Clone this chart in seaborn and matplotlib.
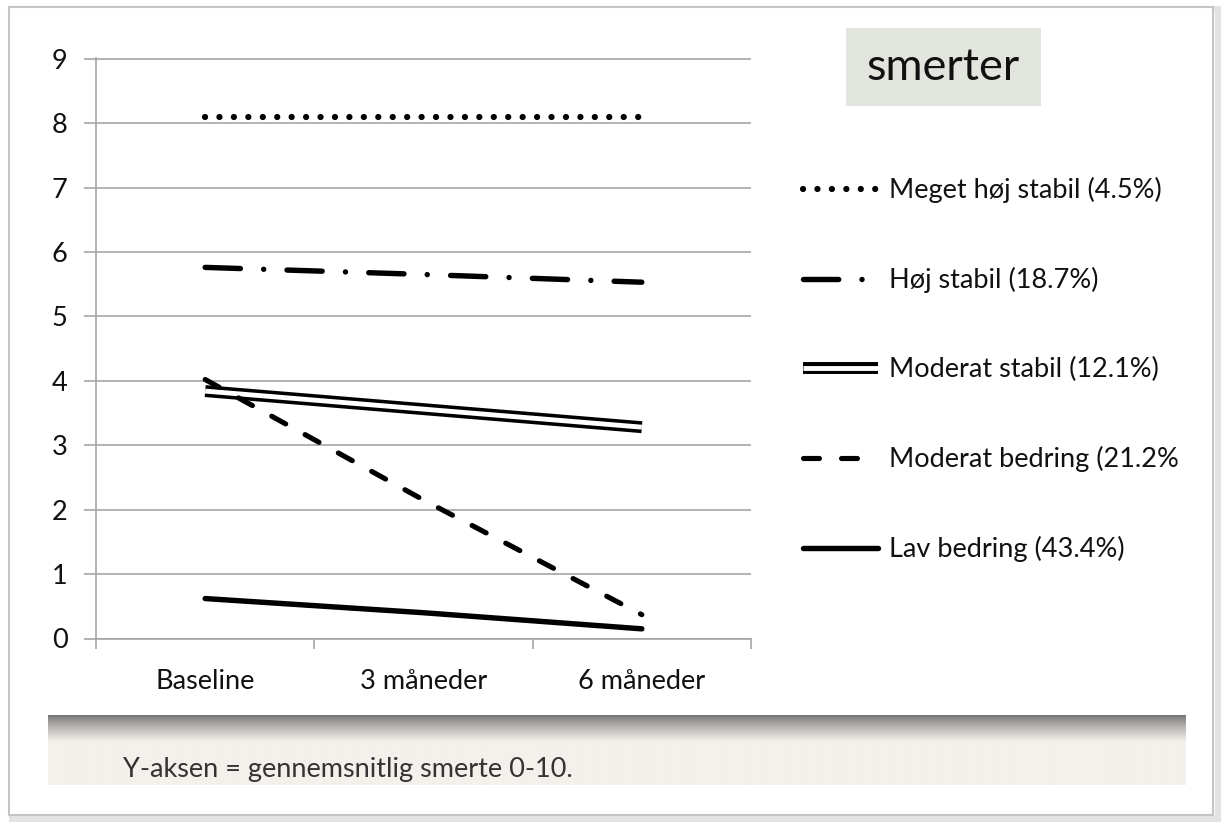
import numpy as np
import pandas as pd
import matplotlib
matplotlib.use("Agg")
import matplotlib.pyplot as plt
import matplotlib.patheffects as pe
from matplotlib.patches import Rectangle
import seaborn as sns

# ---------------- data ----------------
categories = ["Baseline", "3 måneder", "6 måneder"]
groups = [
    "Meget høj stabil (4.5%)",
    "Høj stabil (18.7%)",
    "Moderat stabil (12.1%)",
    "Moderat bedring (21.2%",
    "Lav bedring (43.4%)",
]
meget_hoj_stabil = [8.10, 8.10, 8.10]
hoj_stabil = [5.76, 5.65, 5.53]
moderat_stabil = [3.84, 3.56, 3.28]
moderat_bedring = [4.02, 2.15, 0.37]
lav_bedring = [0.62, 0.40, 0.15]
y_ticks = [0, 1, 2, 3, 4, 5, 6, 7, 8, 9]
title_text = "smerter"
footer_text = "Y-aksen = gennemsnitlig smerte 0-10."

series = [meget_hoj_stabil, hoj_stabil, moderat_stabil, moderat_bedring, lav_bedring]

rows = []
for g, vals in zip(groups, series):
    for i, (c, v) in enumerate(zip(categories, vals)):
        rows.append({"group": g, "tid": c, "pos": i, "value": v})
df = pd.DataFrame(rows)

# ---------------- style ----------------
sns.set_theme(style="white")
plt.rcParams["font.family"] = ["Lato", "DejaVu Sans"]

FS = 19.5
W, H = 1224, 822
fig = plt.figure(figsize=(W / 100, H / 100), dpi=100)
fig.patch.set_facecolor("white")

# outer frame with soft shadow
fig.patches.append(Rectangle((12 / W, 1 - 819 / H), 1206 / W, 810 / H, transform=fig.transFigure,
                             facecolor="none", edgecolor="#e3e3e3", lw=4.5, zorder=-3))
fig.patches.append(Rectangle((9 / W, 1 - 815 / H), 1204 / W, 808 / H, transform=fig.transFigure,
                             facecolor="white", edgecolor="#c4c4c4", lw=1.5, zorder=-2))

grid_col = "#a6a6a6"
ax = fig.add_axes([96 / W, 1 - 638.5 / H, (751 - 96) / W, (638.5 - 58) / H])
ax.set_facecolor("none")
ax.set_zorder(2)

styles = [
    dict(lw=4.5, ls=(0, (0.01, 2.3)), cap="round", pe=None),
    dict(lw=3.9, ls=(0, (6.5, 4.3, 0.01, 4.3)), cap="round", pe=None),
    dict(lw=8.6, ls="-", cap="butt",
         pe=[pe.Normal(), pe.Stroke(linewidth=3.5, foreground="white")]),
    dict(lw=3.7, ls=(0, (3.1, 4.3)), cap="round", pe=None),
    dict(lw=3.9, ls="-", cap="round", pe=None),
]

handles = []
for g, st in zip(groups, styles):
    sub = df[df["group"] == g]
    sns.lineplot(data=sub, x="pos", y="value", ax=ax, color="black",
                 linewidth=st["lw"], legend=False, sort=False, zorder=3)
    line = ax.lines[-1]
    line.set_linestyle(st["ls"])
    line.set_dash_capstyle(st["cap"])
    line.set_solid_capstyle(st["cap"])
    line.set_label(g)
    if st["pe"] is not None:
        line.set_path_effects(st["pe"])
    handles.append(line)

ax.set_xlim(-0.5, len(categories) - 0.5)
ax.set_ylim(0, 9.01)
ax.set_yticks(y_ticks)
ax.set_yticklabels([str(t) for t in y_ticks])
ax.set_xticks(range(len(categories)))
ax.set_xticklabels(categories)
ax.set_xticks(np.arange(-0.5, len(categories), 1.0), minor=True)
ax.set_xlabel("")
ax.set_ylabel("")

ax.yaxis.grid(True, color=grid_col, lw=1.2, zorder=0)
ax.xaxis.grid(False)
ax.set_axisbelow(True)
for s in ["top", "right"]:
    ax.spines[s].set_visible(False)
for s in ["left", "bottom"]:
    ax.spines[s].set_color(grid_col)
    ax.spines[s].set_linewidth(1.2)

ax.tick_params(axis="y", which="major", left=True, length=8.6, width=1.2, color=grid_col,
               pad=12, labelsize=FS, labelcolor="#111111")
ax.tick_params(axis="x", which="major", bottom=False, length=0, pad=22,
               labelsize=FS, labelcolor="#111111")
ax.tick_params(axis="x", which="minor", bottom=True, length=7, width=1.2, color=grid_col,
               direction="out")

# legend
leg = fig.legend(handles=handles, labels=groups, loc="center left",
                 bbox_to_anchor=(803 / W, 1 - 369.5 / H), frameon=False,
                 fontsize=FS, handlelength=2.77, handletextpad=0.4,
                 labelspacing=2.36, borderpad=0, borderaxespad=0)
for t in leg.get_texts():
    t.set_color("#111111")

# title box
fig.patches.append(Rectangle((846 / W, 1 - 106 / H), 195 / W, 78 / H, transform=fig.transFigure,
                             facecolor="#e2e5dd", edgecolor="none", zorder=1))
fig.text(943 / W, 1 - 67 / H, title_text, ha="center", va="center", fontsize=32.5,
         color="#111111", zorder=2)

# footer band with gradient
fax = fig.add_axes([48 / W, 1 - 785 / H, (1186 - 48) / W, 70 / H])
fax.set_zorder(1)
nrows = 70
top = np.array([0x74, 0x74, 0x74]) / 255
base = np.array([0xf4, 0xf0, 0xeb]) / 255
grad = np.zeros((nrows, 2, 3))
for i in range(nrows):
    t = min(i / 26.0, 1.0)
    t = t ** 0.8
    grad[i, :, :] = top * (1 - t) + base * t
fax.imshow(grad, aspect="auto", extent=(0, 1, 0, 1), interpolation="bilinear")
fax.set_axis_off()
fig.text(123 / W, 1 - 769 / H, footer_text, ha="left", va="center", fontsize=FS,
         color="#333333", zorder=5)

fig.savefig("out.png", dpi=100)
